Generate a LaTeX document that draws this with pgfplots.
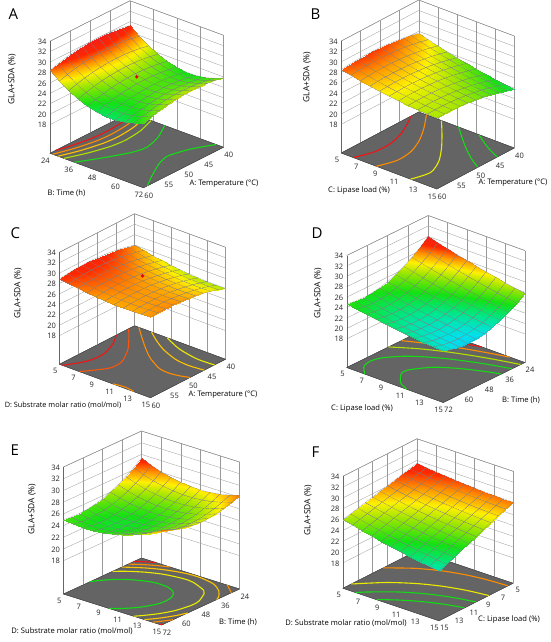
\documentclass[border=0pt]{standalone}
\usepackage{fontspec}
\setmainfont{Open Sans}
\usepackage{pgfplots}
\pgfplotsset{compat=1.18}
\definecolor{floorgray}{RGB}{100,100,100}
\definecolor{cRed}{RGB}{240,20,20}
\definecolor{cOrR}{RGB}{250,85,10}
\definecolor{cOr}{RGB}{255,140,0}
\definecolor{cYO}{RGB}{255,195,0}
\definecolor{cYel}{RGB}{235,235,0}
\definecolor{cYG}{RGB}{175,225,0}
\definecolor{cGr}{RGB}{20,220,20}
\pgfplotsset{
  colormap={dx}{rgb255(0cm)=(0,120,255) rgb255(1.8cm)=(0,225,235) rgb255(3cm)=(0,230,140) rgb255(4.4cm)=(20,225,20) rgb255(6cm)=(160,230,0) rgb255(7cm)=(255,240,0) rgb255(8cm)=(255,150,0) rgb255(9cm)=(255,40,0) rgb255(10.5cm)=(235,25,40)},
  dxaxis/.style={
    anchor=south west, enlargelimits=false, clip=false,
    y dir=reverse, zmax=34, ztick={18,20,...,34},
    grid=major, grid style={black!40, line width=0.3pt},
    axis line style={black!60, line width=0.35pt},
    major tick length=0pt,
    tick label style={font=\fontsize{7.5}{8}\selectfont, text=black!85},
    /pgf/number format/assume math mode=true,
    colormap name=dx, point meta min=20, point meta max=30.5,
  },
  dxsurf/.style={surf, shader=faceted interp, faceted color=black!50, line width=0.15pt, mesh/rows=11, mesh/cols=11, mesh/ordering=y varies},
  dxfloor/.style={fill=floorgray, draw=black!75, line width=0.4pt},
  dxc/.style={line width=1.1pt, smooth},
}
\newcommand\al{\fontsize{7.6}{9}\selectfont}
\newcommand\als{\fontsize{7.3}{9}\selectfont}
\newcommand\zl{\fontsize{8.4}{9}\selectfont}
\newcommand\pl{\fontsize{15}{15}\selectfont}
\begin{document}
\begin{tikzpicture}
\path[use as bounding box] (0,0) rectangle (550pt,-642pt);
\fill[white] (0,0) rectangle (550pt,-642pt);
% ---------------- A ----------------
\begin{axis}[dxaxis, at={(50pt,-187.75pt)},
  x={(1.9479pt,-0.71875pt)}, y={(4pt,2.025pt)}, z={(0pt,5.209pt)},
  xmin=24,xmax=72, ymin=40,ymax=60, zmin=12.5,
  xtick={24,36,48,60,72}, ytick={40,45,50,55,60}]
\addplot3[dxfloor] coordinates {(24,40,12.5) (72,40,12.5) (72,60,12.5) (24,60,12.5) (24,40,12.5)};
\addplot3[dxc, draw=cRed] coordinates {(24,58.53,12.5) (25.66,56,12.5) (27.45,52,12.5) (27.91,50,12.5) (28.05,48,12.5) (27.38,44,12.5) (25.53,40,12.5)};
\addplot3[dxc, draw=cOr] coordinates {(25.37,60,12.5) (28.41,56,12.5) (30.40,52,12.5) (30.92,50,12.5) (31.08,48,12.5) (30.33,44,12.5) (28.27,40,12.5)};
\addplot3[dxc, draw=cYO] coordinates {(28.09,60,12.5) (31.48,56,12.5) (33.76,52,12.5) (34.35,50,12.5) (34.55,48,12.5) (33.67,44,12.5) (31.32,40,12.5)};
\addplot3[dxc, draw=cYG] coordinates {(31.11,60,12.5) (35.02,56,12.5) (37.76,52,12.5) (38.50,50,12.5) (38.73,48,12.5) (37.65,44,12.5) (34.83,40,12.5)};
\addplot3[dxc, draw=cGr] coordinates {(36.57,60,12.5) (42.03,56,12.5) (46.87,52,12.5) (48.60,50,12.5) (49.23,48,12.5) (46.64,44,12.5) (41.74,40,12.5)};
\addplot3[dxc, draw=cGr] coordinates {(72,59.03,12.5) (70.58,58,12.5) (67.89,56,12.5) (63.05,52,12.5) (61.32,50,12.5) (60.69,48,12.5) (63.28,44,12.5) (68.18,40,12.5)};
\addplot3[dxsurf] coordinates {
(24,60,28.43) (24,58,28.92) (24,56,29.32) (24,54,29.63) (24,52,29.85) (24,50,29.98) (24,48,30.02) (24,46,29.97) (24,44,29.83) (24,42,29.60) (24,40,29.28)
(28.8,60,27.00) (28.8,58,27.49) (28.8,56,27.89) (28.8,54,28.20) (28.8,52,28.42) (28.8,50,28.55) (28.8,48,28.59) (28.8,46,28.54) (28.8,44,28.40) (28.8,42,28.17) (28.8,40,27.85)
(33.6,60,25.82) (33.6,58,26.31) (33.6,56,26.71) (33.6,54,27.02) (33.6,52,27.24) (33.6,50,27.37) (33.6,48,27.41) (33.6,46,27.36) (33.6,44,27.22) (33.6,42,26.99) (33.6,40,26.67)
(38.4,60,24.87) (38.4,58,25.36) (38.4,56,25.76) (38.4,54,26.07) (38.4,52,26.29) (38.4,50,26.42) (38.4,48,26.46) (38.4,46,26.41) (38.4,44,26.27) (38.4,42,26.04) (38.4,40,25.72)
(43.2,60,24.16) (43.2,58,24.65) (43.2,56,25.05) (43.2,54,25.36) (43.2,52,25.58) (43.2,50,25.71) (43.2,48,25.75) (43.2,46,25.70) (43.2,44,25.56) (43.2,42,25.33) (43.2,40,25.01)
(48,60,23.69) (48,58,24.18) (48,56,24.58) (48,54,24.89) (48,52,25.11) (48,50,25.24) (48,48,25.28) (48,46,25.23) (48,44,25.09) (48,42,24.86) (48,40,24.54)
(52.8,60,23.46) (52.8,58,23.95) (52.8,56,24.35) (52.8,54,24.66) (52.8,52,24.88) (52.8,50,25.01) (52.8,48,25.05) (52.8,46,25.00) (52.8,44,24.86) (52.8,42,24.63) (52.8,40,24.31)
(57.6,60,23.48) (57.6,58,23.97) (57.6,56,24.37) (57.6,54,24.68) (57.6,52,24.90) (57.6,50,25.03) (57.6,48,25.07) (57.6,46,25.02) (57.6,44,24.88) (57.6,42,24.65) (57.6,40,24.33)
(62.4,60,23.73) (62.4,58,24.22) (62.4,56,24.62) (62.4,54,24.93) (62.4,52,25.15) (62.4,50,25.28) (62.4,48,25.32) (62.4,46,25.27) (62.4,44,25.13) (62.4,42,24.90) (62.4,40,24.58)
(67.2,60,24.22) (67.2,58,24.71) (67.2,56,25.11) (67.2,54,25.42) (67.2,52,25.64) (67.2,50,25.77) (67.2,48,25.81) (67.2,46,25.76) (67.2,44,25.62) (67.2,42,25.39) (67.2,40,25.07)
(72,60,24.95) (72,58,25.44) (72,56,25.84) (72,54,26.15) (72,52,26.37) (72,50,26.50) (72,48,26.54) (72,46,26.49) (72,44,26.35) (72,42,26.12) (72,40,25.80)
};
\addplot3[only marks, mark=*, mark size=1.5pt, color=red!90!black] coordinates {(48,50,26.6)};
\end{axis}
% ---------------- B ----------------
\begin{axis}[dxaxis, at={(341.25pt,-189pt)},
  x={(9.55pt,-3.6pt)}, y={(3.875pt,2.05pt)}, z={(0pt,5.209pt)},
  xmin=5,xmax=15, ymin=40,ymax=60, zmin=12.5,
  xtick={5,7,9,11,13,15}, ytick={40,45,50,55,60}]
\addplot3[dxfloor] coordinates {(5,40,12.5) (15,40,12.5) (15,60,12.5) (5,60,12.5) (5,40,12.5)};
\addplot3[dxc, draw=cRed] coordinates {(6.258,60,12.5) (6.908,56,12.5) (6.917,52,12.5) (6.408,48,12.5) (5.522,44,12.5) (5,42.09,12.5)};
\addplot3[dxc, draw=cOr] coordinates {(8.674,60,12.5) (9.278,56,12.5) (9.082,52,12.5) (8.307,48,12.5) (7.165,44,12.5) (5.801,40,12.5)};
\addplot3[dxc, draw=cYel] coordinates {(12.257,60,12.5) (12.711,56,12.5) (11.949,52,12.5) (10.621,48,12.5) (9.056,44,12.5) (7.379,40,12.5)};
\addplot3[dxc, draw=cGr] coordinates {(15,49.39,12.5) (13.881,48,12.5) (12.545,46,12.5) (11.356,44,12.5) (9.173,40,12.5)};
\addplot3[dxc, draw=cGr] coordinates {(15,44.39,12.5) (14.576,44,12.5) (13.618,43,12.5) (12.779,42,12.5) (11.303,40,12.5)};
\addplot3[dxsurf] coordinates {
(5,60,28.50) (5,58,28.67) (5,56,28.79) (5,54,28.85) (5,52,28.85) (5,50,28.79) (5,48,28.68) (5,46,28.50) (5,44,28.27) (5,42,27.99) (5,40,27.64)
(6,60,28.10) (6,58,28.26) (6,56,28.36) (6,54,28.40) (6,52,28.39) (6,50,28.32) (6,48,28.19) (6,46,28.00) (6,44,27.76) (6,42,27.45) (6,40,27.09)
(7,60,27.73) (7,58,27.88) (7,56,27.96) (7,54,27.99) (7,52,27.97) (7,50,27.88) (7,48,27.74) (7,46,27.54) (7,44,27.28) (7,42,26.96) (7,40,26.58)
(8,60,27.40) (8,58,27.53) (8,56,27.61) (8,54,27.62) (8,52,27.58) (8,50,27.48) (8,48,27.32) (8,46,27.10) (8,44,26.83) (8,42,26.50) (8,40,26.11)
(9,60,27.11) (9,58,27.22) (9,56,27.28) (9,54,27.28) (9,52,27.23) (9,50,27.11) (9,48,26.94) (9,46,26.71) (9,44,26.42) (9,42,26.08) (9,40,25.67)
(10,60,26.85) (10,58,26.95) (10,56,27.00) (10,54,26.98) (10,52,26.91) (10,50,26.78) (10,48,26.60) (10,46,26.35) (10,44,26.05) (10,42,25.69) (10,40,25.27)
(11,60,26.63) (11,58,26.72) (11,56,26.75) (11,54,26.72) (11,52,26.63) (11,50,26.49) (11,48,26.29) (11,46,26.03) (11,44,25.71) (11,42,25.34) (11,40,24.90)
(12,60,26.44) (12,58,26.52) (12,56,26.53) (12,54,26.49) (12,52,26.39) (12,50,26.23) (12,48,26.01) (12,46,25.74) (12,44,25.41) (12,42,25.02) (12,40,24.57)
(13,60,26.29) (13,58,26.35) (13,56,26.35) (13,54,26.30) (13,52,26.18) (13,50,26.01) (13,48,25.78) (13,46,25.49) (13,44,25.14) (13,42,24.74) (13,40,24.28)
(14,60,26.18) (14,58,26.22) (14,56,26.21) (14,54,26.14) (14,52,26.01) (14,50,25.82) (14,48,25.58) (14,46,25.28) (14,44,24.92) (14,42,24.50) (14,40,24.02)
(15,60,26.10) (15,58,26.13) (15,56,26.10) (15,54,26.02) (15,52,25.87) (15,50,25.67) (15,48,25.41) (15,46,25.10) (15,44,24.72) (15,42,24.29) (15,40,23.80)
};
\end{axis}
% ---------------- C ----------------
\begin{axis}[dxaxis, at={(59.5pt,-397.75pt)},
  x={(9.1pt,-3.35pt)}, y={(3.75pt,1.925pt)}, z={(0pt,5.209pt)},
  xmin=5,xmax=15, ymin=40,ymax=60, zmin=12.5,
  xtick={5,7,9,11,13,15}, ytick={40,45,50,55,60}]
\addplot3[dxfloor] coordinates {(5,40,12.5) (15,40,12.5) (15,60,12.5) (5,60,12.5) (5,40,12.5)};
\addplot3[dxc, draw=cRed] coordinates {(5.308,60,12.5) (6.377,56,12.5) (6.543,52,12.5) (5.895,48,12.5) (5.355,46,12.5) (5,44.85,12.5)};
\addplot3[dxc, draw=cOrR] coordinates {(7.20,60,12.5) (8.582,56,12.5) (8.778,54,12.5) (8.619,52,12.5) (7.568,48,12.5) (6.033,44,12.5) (5.182,42,12.5) (5,41.58,12.5)};
\addplot3[dxc, draw=cOr] coordinates {(10.858,60,12.5) (11.236,59.8,12.5) (12.0,59.61,12.5) (12.804,59.8,12.5) (13.142,60,12.5)};
\addplot3[dxc, draw=cOr] coordinates {(15,49.47,12.5) (14.32,50,12.5) (13.519,50.4,12.5) (12.98,50.48,12.5) (12.445,50.4,12.5) (11.73,50,12.5) (10.02,48,12.5) (8.767,46,12.5) (7.63,44,12.5) (6.544,42,12.5) (5.486,40,12.5)};
\addplot3[dxc, draw=cYO] coordinates {(15,45.65,12.5) (13.43,46,12.5) (11.84,45.6,12.5) (9.85,44,12.5) (8.228,42,12.5) (6.868,40,12.5)};
\addplot3[dxc, draw=cYel] coordinates {(15,42.91,12.5) (14.651,43,12.5) (13.7,43.1,12.5) (12.827,43,12.5) (10.716,42,12.5) (8.588,40,12.5)};
\addplot3[dxsurf] coordinates {
(5,60,28.90) (5,58,29.09) (5,56,29.23) (5,54,29.29) (5,52,29.30) (5,50,29.24) (5,48,29.12) (5,46,28.93) (5,44,28.69) (5,42,28.37) (5,40,28.00)
(6,60,28.60) (6,58,28.78) (6,56,28.91) (6,54,28.97) (6,52,28.96) (6,50,28.90) (6,48,28.76) (6,46,28.57) (6,44,28.31) (6,42,27.99) (6,40,27.60)
(7,60,28.35) (7,58,28.52) (7,56,28.64) (7,54,28.69) (7,52,28.67) (7,50,28.60) (7,48,28.46) (7,46,28.25) (7,44,27.98) (7,42,27.65) (7,40,27.26)
(8,60,28.14) (8,58,28.31) (8,56,28.41) (8,54,28.45) (8,52,28.43) (8,50,28.34) (8,48,28.19) (8,46,27.98) (8,44,27.70) (8,42,27.36) (8,40,26.96)
(9,60,27.98) (9,58,28.14) (9,56,28.23) (9,54,28.26) (9,52,28.23) (9,50,28.13) (9,48,27.97) (9,46,27.75) (9,44,27.46) (9,42,27.11) (9,40,26.70)
(10,60,27.86) (10,58,28.01) (10,56,28.10) (10,54,28.12) (10,52,28.08) (10,50,27.97) (10,48,27.80) (10,46,27.57) (10,44,27.27) (10,42,26.91) (10,40,26.49)
(11,60,27.79) (11,58,27.93) (11,56,28.01) (11,54,28.02) (11,52,27.97) (11,50,27.86) (11,48,27.68) (11,46,27.44) (11,44,27.13) (11,42,26.76) (11,40,26.33)
(12,60,27.77) (12,58,27.90) (12,56,27.97) (12,54,27.97) (12,52,27.91) (12,50,27.79) (12,48,27.60) (12,46,27.35) (12,44,27.03) (12,42,26.65) (12,40,26.21)
(13,60,27.79) (13,58,27.91) (13,56,27.97) (13,54,27.97) (13,52,27.90) (13,50,27.76) (13,48,27.56) (13,46,27.30) (13,44,26.98) (13,42,26.59) (13,40,26.14)
(14,60,27.86) (14,58,27.97) (14,56,28.02) (14,54,28.01) (14,52,27.93) (14,50,27.78) (14,48,27.58) (14,46,27.31) (14,44,26.97) (14,42,26.58) (14,40,26.12)
(15,60,27.98) (15,58,28.08) (15,56,28.12) (15,54,28.09) (15,52,28.00) (15,50,27.85) (15,48,27.64) (15,46,27.36) (15,44,27.01) (15,42,26.61) (15,40,26.14)
};
\addplot3[only marks, mark=*, mark size=1.5pt, color=red!90!black] coordinates {(10,50,29.0)};
\end{axis}
% ---------------- D ----------------
\begin{axis}[dxaxis, at={(346.75pt,-402.5pt)},
  x={(9.65pt,-3.5pt)}, y={(1.6979pt,0.8333pt)}, z={(0pt,5.209pt)},
  xmin=5,xmax=15, ymin=24,ymax=72, zmin=12.5,
  xtick={5,7,9,11,13,15}, ytick={24,36,48,60,72}]
\addplot3[dxfloor] coordinates {(5,24,12.5) (15,24,12.5) (15,72,12.5) (5,72,12.5) (5,24,12.5)};
\addplot3[dxc, draw=cGr] coordinates {(11.21,72,12.5) (11,71.54,12.5) (10,68.76,12.5) (9,62.68,12.5) (8.92,60.29,12.5) (9,57.87,12.5) (10,50.77,12.5) (11,46.98,12.5) (12,44.07,12.5) (13,41.66,12.5) (14,39.59,12.5) (15,37.77,12.5)};
\addplot3[dxc, draw=cGr] coordinates {(6.867,72,12.5) (6,67.66,12.5) (5.7,64.42,12.5) (5.63,61.97,12.5) (5.7,59.49,12.5) (6,55.94,12.5) (7,50.11,12.5) (8,46.28,12.5) (9,43.22,12.5) (10,40.64,12.5) (11,38.39,12.5) (12,36.38,12.5) (13,34.58,12.5) (14,32.95,12.5) (15,31.47,12.5)};
\addplot3[dxc, draw=cYG] coordinates {(5,47.36,12.5) (7,41.04,12.5) (9,36.28,12.5) (11,32.41,12.5) (13,29.17,12.5) (15,26.43,12.5)};
\addplot3[dxc, draw=cOr] coordinates {(5,39.75,12.5) (7,34.93,12.5) (9,30.94,12.5) (11,27.54,12.5) (13,24.63,12.5) (13.47,24,12.5)};
\addplot3[dxc, draw=cRed] coordinates {(5,34.13,12.5) (7,29.99,12.5) (9,26.42,12.5) (10.544,24,12.5)};
\addplot3[dxsurf] coordinates {
(5,72,24.70) (5,67.2,24.43) (5,62.4,24.34) (5,57.6,24.42) (5,52.8,24.69) (5,48,25.13) (5,43.2,25.75) (5,38.4,26.54) (5,33.6,27.52) (5,28.8,28.67) (5,24,30.00)
(6,72,24.37) (6,67.2,24.08) (6,62.4,23.97) (6,57.6,24.04) (6,52.8,24.28) (6,48,24.70) (6,43.2,25.30) (6,38.4,26.08) (6,33.6,27.04) (6,28.8,28.17) (6,24,29.48)
(7,72,24.06) (7,67.2,23.75) (7,62.4,23.62) (7,57.6,23.67) (7,52.8,23.90) (7,48,24.30) (7,43.2,24.88) (7,38.4,25.64) (7,33.6,26.58) (7,28.8,27.69) (7,24,28.98)
(8,72,23.77) (8,67.2,23.45) (8,62.4,23.30) (8,57.6,23.33) (8,52.8,23.53) (8,48,23.92) (8,43.2,24.48) (8,38.4,25.22) (8,33.6,26.14) (8,28.8,27.24) (8,24,28.51)
(9,72,23.51) (9,67.2,23.16) (9,62.4,23.00) (9,57.6,23.01) (9,52.8,23.19) (9,48,23.56) (9,43.2,24.10) (9,38.4,24.82) (9,33.6,25.72) (9,28.8,26.80) (9,24,28.06)
(10,72,23.27) (10,67.2,22.90) (10,62.4,22.71) (10,57.6,22.71) (10,52.8,22.88) (10,48,23.22) (10,43.2,23.75) (10,38.4,24.45) (10,33.6,25.33) (10,28.8,26.39) (10,24,27.63)
(11,72,23.04) (11,67.2,22.66) (11,62.4,22.46) (11,57.6,22.43) (11,52.8,22.58) (11,48,22.91) (11,43.2,23.41) (11,38.4,24.10) (11,33.6,24.96) (11,28.8,26.00) (11,24,27.22)
(12,72,22.85) (12,67.2,22.44) (12,62.4,22.22) (12,57.6,22.17) (12,52.8,22.31) (12,48,22.61) (12,43.2,23.10) (12,38.4,23.77) (12,33.6,24.61) (12,28.8,25.63) (12,24,26.83)
(13,72,22.67) (13,67.2,22.25) (13,62.4,22.00) (13,57.6,21.94) (13,52.8,22.05) (13,48,22.34) (13,43.2,22.81) (13,38.4,23.46) (13,33.6,24.28) (13,28.8,25.28) (13,24,26.46)
(14,72,22.51) (14,67.2,22.07) (14,62.4,21.81) (14,57.6,21.73) (14,52.8,21.82) (14,48,22.09) (14,43.2,22.54) (14,38.4,23.17) (14,33.6,23.98) (14,28.8,24.96) (14,24,26.12)
(15,72,22.38) (15,67.2,21.92) (15,62.4,21.64) (15,57.6,21.54) (15,52.8,21.61) (15,48,21.87) (15,43.2,22.30) (15,38.4,22.91) (15,33.6,23.69) (15,28.8,24.66) (15,24,25.80)
};
\end{axis}
% ---------------- E ----------------
\begin{axis}[dxaxis, at={(63.5pt,-625pt)},
  x={(9.8pt,-3.1pt)}, y={(1.625pt,0.75pt)}, z={(0pt,5.853pt)},
  xmin=5,xmax=15, ymin=24,ymax=72, zmin=12.3,
  xtick={5,7,9,11,13,15}, ytick={24,36,48,60,72}]
\addplot3[dxfloor] coordinates {(5,24,12.3) (15,24,12.3) (15,72,12.3) (5,72,12.3) (5,24,12.3)};
\addplot3[dxc, draw=cGr] coordinates {(5,55.54,12.3) (5.198,53.75,12.3) (6.06,48.29,12.3) (7.151,43.92,12.3) (8.5,40.8,12.3) (9.344,40.05,12.3) (10.433,40.48,12.3) (11.213,42.30,12.3) (11.42,43.30,12.3) (11.632,44.31,12.3) (12.012,48.06,12.3) (12.101,53.29,12.3) (11.937,57.30,12.3) (11.293,63.81,12.3) (10.385,69.04,12.3) (9.63,72,12.3)};
\addplot3[dxc, draw=cYel] coordinates {(5,41.80,12.3) (5.912,37.98,12.3) (7.123,34.19,12.3) (8.522,31.31,12.3) (10.22,29.86,12.3) (11.306,30.27,12.3) (12.847,33.54,12.3) (13.17,34.90,12.3) (13.458,36.47,12.3) (14.139,43.87,12.3) (14.225,49.08,12.3) (13.922,57.23,12.3) (13.321,63.94,12.3) (12.532,69.75,12.3) (12.149,72,12.3)};
\addplot3[dxc, draw=cYO] coordinates {(5,36.22,12.3) (5.298,35.03,12.3) (6.474,31.08,12.3) (7.797,27.83,12.3) (9.315,25.51,12.3) (10.182,24.87,12.3) (11.171,24.82,12.3) (12.409,25.96,12.3) (13.107,27.39,12.3) (14.02,30.82,12.3) (14.738,35.22,12.3) (15,38.07,12.3)};
\addplot3[dxc, draw=cYO] coordinates {(13.262,72,12.3) (13.97,67.06,12.3) (14.648,60.71,12.3) (15,55.92,12.3)};
\addplot3[dxc, draw=cOr] coordinates {(5,32.13,12.3) (5.987,28.74,12.3) (7.002,25.93,12.3) (7.883,24,12.3)};
\addplot3[dxc, draw=cOr] coordinates {(13.736,24,12.3) (13.89,24.43,12.3) (14.67,27.70,12.3) (15,29.06,12.3)};
\addplot3[dxc, draw=cOr] coordinates {(14.087,72,12.3) (14.458,69.39,12.3) (15,64.92,12.3)};
\addplot3[dxc, draw=cRed] coordinates {(5,28.51,12.3) (5.55,26.64,12.3) (6.444,24,12.3)};
\addplot3[dxc, draw=cRed] coordinates {(14.822,72,12.3) (15,70.72,12.3)};
\addplot3[dxsurf] coordinates {
(5,72,25.00) (5,67.2,24.84) (5,62.4,24.81) (5,57.6,24.91) (5,52.8,25.15) (5,48,25.52) (5,43.2,26.03) (5,38.4,26.67) (5,33.6,27.44) (5,28.8,28.34) (5,24,29.38)
(6,72,24.76) (6,67.2,24.55) (6,62.4,24.47) (6,57.6,24.53) (6,52.8,24.72) (6,48,25.05) (6,43.2,25.51) (6,38.4,26.10) (6,33.6,26.82) (6,28.8,27.68) (6,24,28.67)
(7,72,24.65) (7,67.2,24.39) (7,62.4,24.27) (7,57.6,24.28) (7,52.8,24.43) (7,48,24.71) (7,43.2,25.12) (7,38.4,25.66) (7,33.6,26.34) (7,28.8,27.15) (7,24,28.10)
(8,72,24.67) (8,67.2,24.37) (8,62.4,24.20) (8,57.6,24.17) (8,52.8,24.27) (8,48,24.50) (8,43.2,24.86) (8,38.4,25.36) (8,33.6,25.99) (8,28.8,26.76) (8,24,27.66)
(9,72,24.83) (9,67.2,24.48) (9,62.4,24.27) (9,57.6,24.19) (9,52.8,24.24) (9,48,24.42) (9,43.2,24.74) (9,38.4,25.19) (9,33.6,25.78) (9,28.8,26.50) (9,24,27.35)
(10,72,25.12) (10,67.2,24.73) (10,62.4,24.47) (10,57.6,24.34) (10,52.8,24.34) (10,48,24.48) (10,43.2,24.75) (10,38.4,25.16) (10,33.6,25.70) (10,28.8,26.37) (10,24,27.17)
(11,72,25.55) (11,67.2,25.11) (11,62.4,24.80) (11,57.6,24.62) (11,52.8,24.58) (11,48,24.67) (11,43.2,24.90) (11,38.4,25.26) (11,33.6,25.75) (11,28.8,26.37) (11,24,27.13)
(12,72,26.11) (12,67.2,25.62) (12,62.4,25.26) (12,57.6,25.04) (12,52.8,24.95) (12,48,25.00) (12,43.2,25.18) (12,38.4,25.49) (12,33.6,25.93) (12,28.8,26.51) (12,24,27.22)
(13,72,26.80) (13,67.2,26.26) (13,62.4,25.86) (13,57.6,25.59) (13,52.8,25.46) (13,48,25.46) (13,43.2,25.59) (13,38.4,25.85) (13,33.6,26.25) (13,28.8,26.78) (13,24,27.45)
(14,72,27.62) (14,67.2,27.04) (14,62.4,26.59) (14,57.6,26.28) (14,52.8,26.10) (14,48,26.05) (14,43.2,26.13) (14,38.4,26.35) (14,33.6,26.70) (14,28.8,27.19) (14,24,27.81)
(15,72,28.58) (15,67.2,27.95) (15,62.4,27.46) (15,57.6,27.10) (15,52.8,26.87) (15,48,26.77) (15,43.2,26.81) (15,38.4,26.98) (15,33.6,27.29) (15,28.8,27.73) (15,24,28.30)
};
\end{axis}
% ---------------- F ----------------
\begin{axis}[dxaxis, at={(343pt,-620.75pt)},
  x={(9.6pt,-3.25pt)}, y={(7.4pt,3.75pt)}, z={(0pt,5.411pt)},
  xmin=5,xmax=15, ymin=5,ymax=15, zmin=13.3,
  xtick={5,7,9,11,13,15}, ytick={5,7,9,11,13,15}]
\addplot3[dxfloor] coordinates {(5,5,13.3) (15,5,13.3) (15,15,13.3) (5,15,13.3) (5,5,13.3)};
\addplot3[dxc, draw=cGr] coordinates {(8.505,15,13.3) (9,14.575,13.3) (10,13.817,13.3) (11,13.18,13.3) (12,12.648,13.3) (13,12.206,13.3) (14,11.844,13.3) (15,11.552,13.3)};
\addplot3[dxc, draw=cGr] coordinates {(6.321,15,13.3) (7,14.263,13.3) (9,12.538,13.3) (11,11.336,13.3) (13,10.521,13.3) (15,10.0,13.3)};
\addplot3[dxc, draw=cYel] coordinates {(5,13.857,13.3) (7,11.737,13.3) (9,10.276,13.3) (11,9.287,13.3) (13,8.648,13.3) (15,8.276,13.3)};
\addplot3[dxc, draw=cOr] coordinates {(5,9.571,13.3) (7,7.949,13.3) (9,6.882,13.3) (11,6.213,13.3) (13,5.839,13.3) (15,5.69,13.3)};
\addplot3[dxc, draw=cRed] coordinates {(5,6.429,13.3) (6,5.729,13.3) (7,5.172,13.3) (7.362,5,13.3)};
\addplot3[dxsurf] coordinates {
(5,15,26.00) (5,14,26.35) (5,13,26.70) (5,12,27.05) (5,11,27.40) (5,10,27.75) (5,9,28.10) (5,8,28.45) (5,7,28.80) (5,6,29.15) (5,5,29.50)
(6,15,25.54) (6,14,25.92) (6,13,26.29) (6,12,26.66) (6,11,27.03) (6,10,27.41) (6,9,27.78) (6,8,28.15) (6,7,28.53) (6,6,28.90) (6,5,29.27)
(7,15,25.11) (7,14,25.50) (7,13,25.90) (7,12,26.30) (7,11,26.69) (7,10,27.09) (7,9,27.48) (7,8,27.88) (7,7,28.28) (7,6,28.67) (7,5,29.07)
(8,15,24.70) (8,14,25.12) (8,13,25.54) (8,12,25.96) (8,11,26.37) (8,10,26.79) (8,9,27.21) (8,8,27.63) (8,7,28.05) (8,6,28.47) (8,5,28.89)
(9,15,24.31) (9,14,24.75) (9,13,25.20) (9,12,25.64) (9,11,26.08) (9,10,26.52) (9,9,26.96) (9,8,27.41) (9,7,27.85) (9,6,28.29) (9,5,28.73)
(10,15,23.95) (10,14,24.42) (10,13,24.88) (10,12,25.35) (10,11,25.81) (10,10,26.28) (10,9,26.74) (10,8,27.21) (10,7,27.67) (10,6,28.14) (10,5,28.60)
(11,15,23.61) (11,14,24.10) (11,13,24.59) (11,12,25.08) (11,11,25.56) (11,10,26.05) (11,9,26.54) (11,8,27.03) (11,7,27.52) (11,6,28.00) (11,5,28.49)
(12,15,23.30) (12,14,23.81) (12,13,24.32) (12,12,24.83) (12,11,25.34) (12,10,25.85) (12,9,26.36) (12,8,26.88) (12,7,27.39) (12,6,27.90) (12,5,28.41)
(13,15,23.01) (13,14,23.54) (13,13,24.08) (13,12,24.61) (13,11,25.14) (13,10,25.68) (13,9,26.21) (13,8,26.75) (13,7,27.28) (13,6,27.81) (13,5,28.35)
(14,15,22.74) (14,14,23.30) (14,13,23.86) (14,12,24.41) (14,11,24.97) (14,10,25.53) (14,9,26.08) (14,8,26.64) (14,7,27.20) (14,6,27.76) (14,5,28.31)
(15,15,22.50) (15,14,23.08) (15,13,23.66) (15,12,24.24) (15,11,24.82) (15,10,25.40) (15,9,25.98) (15,8,26.56) (15,7,27.14) (15,6,27.72) (15,5,28.30)
};
\end{axis}
% ---------------- labels ----------------
\node[font=\pl, anchor=base west] at (5pt,-20pt) {A};
\node[font=\pl, anchor=base west] at (307pt,-20pt) {B};
\node[font=\pl, anchor=base west] at (7pt,-238pt) {C};
\node[font=\pl, anchor=base west] at (308pt,-238pt) {D};
\node[font=\pl, anchor=base west] at (7pt,-455pt) {E};
\node[font=\pl, anchor=base west] at (308pt,-457pt) {F};
\node[font=\al] at (66.5pt,-193pt) {B: Time (h)};
\node[font=\al] at (224pt,-184pt) {A: Temperature (°C)};
\node[font=\zl, rotate=90] at (12pt,-79pt) {GLA+SDA (\%)};
\node[font=\al] at (359pt,-191pt) {C: Lipase load (\%)};
\node[font=\al] at (513pt,-183pt) {A: Temperature (°C)};
\node[font=\zl, rotate=90] at (307pt,-77pt) {GLA+SDA (\%)};
\node[font=\als] at (63pt,-405pt) {D: Substrate molar ratio (mol/mol)};
\node[font=\al] at (223pt,-395pt) {A: Temperature (°C)};
\node[font=\zl, rotate=90] at (18pt,-293pt) {GLA+SDA (\%)};
\node[font=\al] at (362pt,-408.5pt) {C: Lipase load (\%)};
\node[font=\al] at (521pt,-400pt) {B: Time (h)};
\node[font=\zl, rotate=90] at (318pt,-293pt) {GLA+SDA (\%)};
\node[font=\al] at (72pt,-631pt) {D: Substrate molar ratio (mol/mol)};
\node[font=\al] at (238pt,-622pt) {B: Time (h)};
\node[font=\zl, rotate=90] at (32pt,-509pt) {GLA+SDA (\%)};
\node[font=\al] at (346pt,-623pt) {D: Substrate molar ratio (mol/mol)};
\node[font=\al] at (509pt,-620pt) {C: Lipase load (\%)};
\node[font=\zl, rotate=90] at (308pt,-510pt) {GLA+SDA (\%)};
\end{tikzpicture}
\end{document}
